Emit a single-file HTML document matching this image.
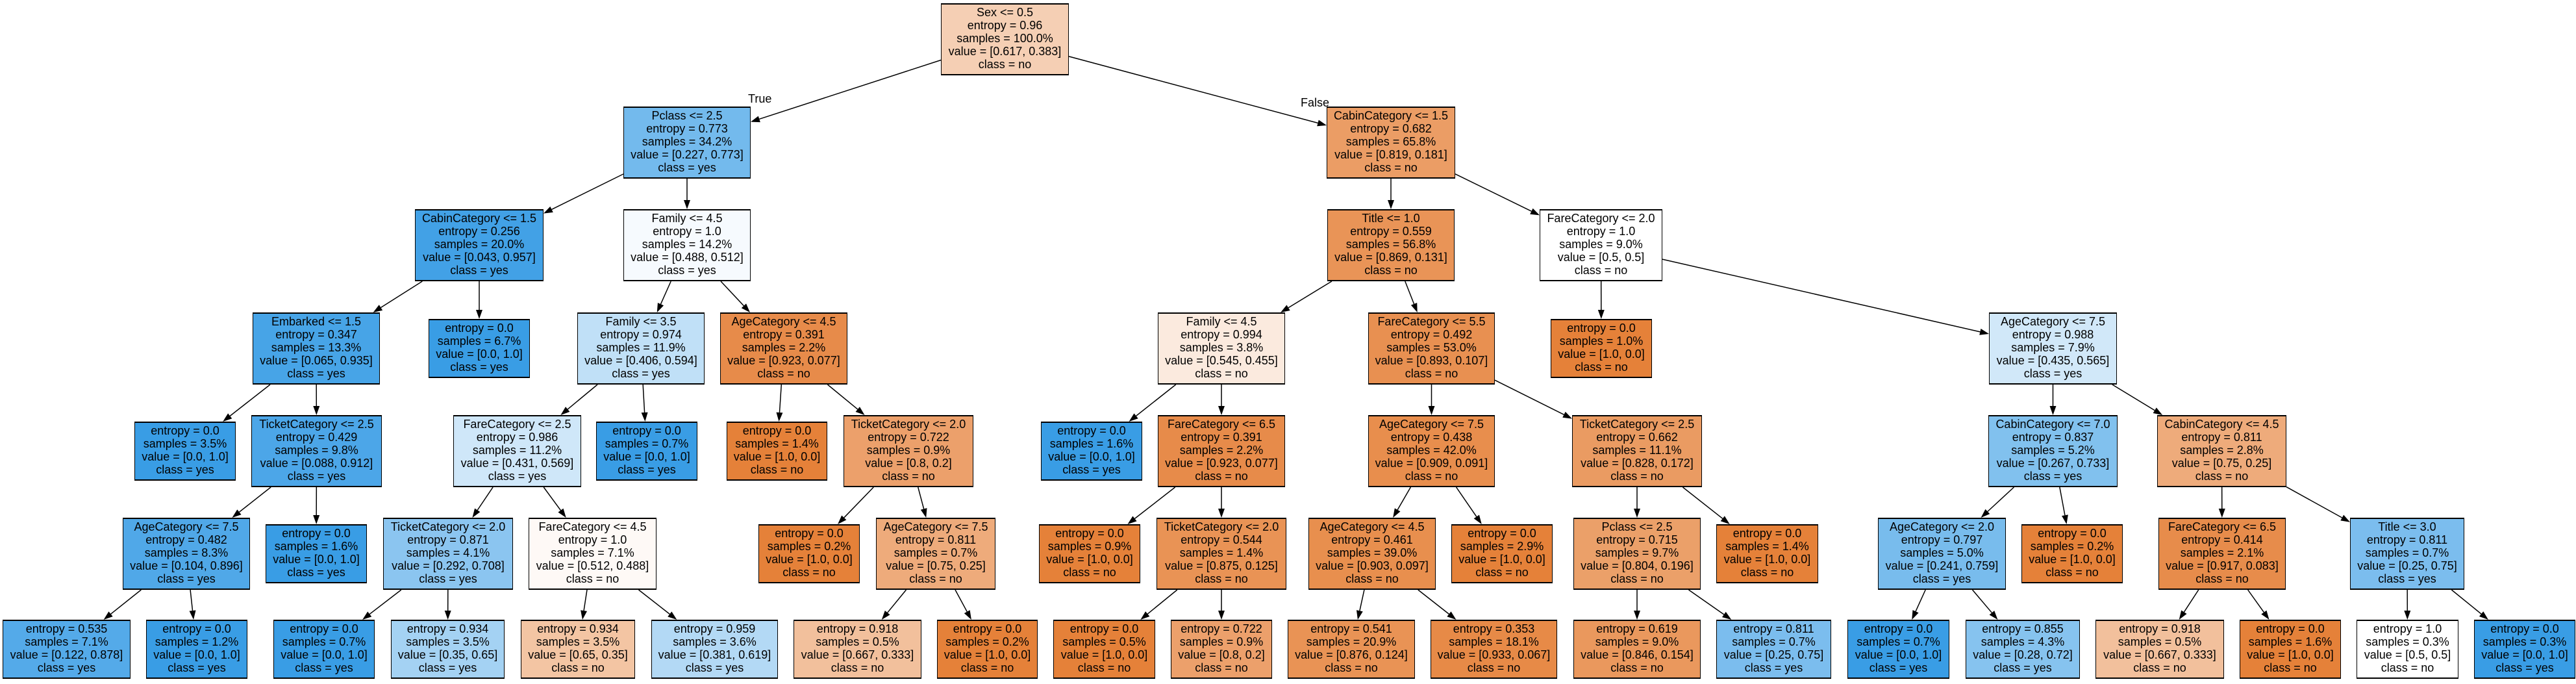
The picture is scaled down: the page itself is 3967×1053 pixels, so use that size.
<!DOCTYPE html>
<html><head><meta charset="utf-8"><style>
html,body{margin:0;padding:0;background:#fff;}
body{width:3967px;height:1053px;position:relative;overflow:hidden;}
.n{position:absolute;box-sizing:border-box;border:1px solid #000;border-top-width:2px;border-bottom-width:2px;font:18px "Liberation Sans",sans-serif;text-align:center;line-height:20px;padding-top:2px;white-space:nowrap;color:#000;}
.a{height:111px}.b{height:91px}
.B{background:#399de5}.O{background:#e58139}
.lbl{position:absolute;font:18px "Liberation Sans",sans-serif;color:#000;}
svg{position:absolute;left:0;top:0;}
</style></head><body>
<svg id="sv" width="3967" height="1053"></svg>
<div class="lbl" style="left:1152px;top:142px">True</div>
<div class="lbl" style="left:2003px;top:148px">False</div>

<div class="n a" id="n0" style="left:1449px;width:197px;top:5px;background:#f5cfb4">Sex &lt;= 0.5<br>entropy = 0.96<br>samples = 100.0%<br>value = [0.617, 0.383]<br>class = no</div>

<div class="n a" id="n1" style="left:960px;width:196px;top:164px;background:#73baed">Pclass &lt;= 2.5<br>entropy = 0.773<br>samples = 34.2%<br>value = [0.227, 0.773]<br>class = yes</div>
<div class="n a" id="n2" style="left:2043px;width:198px;top:164px;background:#eb9d65">CabinCategory &lt;= 1.5<br>entropy = 0.682<br>samples = 65.8%<br>value = [0.819, 0.181]<br>class = no</div>

<div class="n a" id="n3" style="left:639px;width:198px;top:322px;background:#42a1e6">CabinCategory &lt;= 1.5<br>entropy = 0.256<br>samples = 20.0%<br>value = [0.043, 0.957]<br>class = yes</div>
<div class="n a" id="n4" style="left:960px;width:196px;top:322px;background:#f6fafe">Family &lt;= 4.5<br>entropy = 1.0<br>samples = 14.2%<br>value = [0.488, 0.512]<br>class = yes</div>
<div class="n a" id="n5" style="left:2044px;width:196px;top:322px;background:#e99457">Title &lt;= 1.0<br>entropy = 0.559<br>samples = 56.8%<br>value = [0.869, 0.131]<br>class = no</div>
<div class="n a" id="n6" style="left:2371px;width:189px;top:322px;background:#ffffff">FareCategory &lt;= 2.0<br>entropy = 1.0<br>samples = 9.0%<br>value = [0.5, 0.5]<br>class = no</div>

<div class="n a" id="n7" style="left:389px;width:196px;top:481px;background:#47a4e7">Embarked &lt;= 1.5<br>entropy = 0.347<br>samples = 13.3%<br>value = [0.065, 0.935]<br>class = yes</div>
<div class="n b B" id="n8" style="left:660px;width:156px;top:491px">entropy = 0.0<br>samples = 6.7%<br>value = [0.0, 1.0]<br>class = yes</div>
<div class="n a" id="n9" style="left:889px;width:196px;top:481px;background:#c0e0f7">Family &lt;= 3.5<br>entropy = 0.974<br>samples = 11.9%<br>value = [0.406, 0.594]<br>class = yes</div>
<div class="n a" id="n10" style="left:1109px;width:196px;top:481px;background:#e78b4a">AgeCategory &lt;= 4.5<br>entropy = 0.391<br>samples = 2.2%<br>value = [0.923, 0.077]<br>class = no</div>
<div class="n a" id="n11" style="left:1783px;width:196px;top:481px;background:#fbeade">Family &lt;= 4.5<br>entropy = 0.994<br>samples = 3.8%<br>value = [0.545, 0.455]<br>class = no</div>
<div class="n a" id="n12" style="left:2107px;width:195px;top:481px;background:#e89051">FareCategory &lt;= 5.5<br>entropy = 0.492<br>samples = 53.0%<br>value = [0.893, 0.107]<br>class = no</div>
<div class="n b O" id="n13" style="left:2388px;width:156px;top:491px">entropy = 0.0<br>samples = 1.0%<br>value = [1.0, 0.0]<br>class = no</div>
<div class="n a" id="n14" style="left:3063px;width:197px;top:481px;background:#d1e8f9">AgeCategory &lt;= 7.5<br>entropy = 0.988<br>samples = 7.9%<br>value = [0.435, 0.565]<br>class = yes</div>

<div class="n b B" id="n15" style="left:207px;width:156px;top:649px">entropy = 0.0<br>samples = 3.5%<br>value = [0.0, 1.0]<br>class = yes</div>
<div class="n a" id="n16" style="left:387px;width:201px;top:639px;background:#4ca6e8">TicketCategory &lt;= 2.5<br>entropy = 0.429<br>samples = 9.8%<br>value = [0.088, 0.912]<br>class = yes</div>
<div class="n a" id="n17" style="left:698px;width:197px;top:639px;background:#cfe7f9">FareCategory &lt;= 2.5<br>entropy = 0.986<br>samples = 11.2%<br>value = [0.431, 0.569]<br>class = yes</div>
<div class="n b B" id="n18" style="left:918px;width:156px;top:649px">entropy = 0.0<br>samples = 0.7%<br>value = [0.0, 1.0]<br>class = yes</div>
<div class="n b O" id="n19" style="left:1119px;width:155px;top:649px">entropy = 0.0<br>samples = 1.4%<br>value = [1.0, 0.0]<br>class = no</div>
<div class="n a" id="n20" style="left:1299px;width:200px;top:639px;background:#eca06b">TicketCategory &lt;= 2.0<br>entropy = 0.722<br>samples = 0.9%<br>value = [0.8, 0.2]<br>class = no</div>
<div class="n b B" id="n21" style="left:1603px;width:156px;top:649px">entropy = 0.0<br>samples = 1.6%<br>value = [0.0, 1.0]<br>class = yes</div>
<div class="n a" id="n22" style="left:1783px;width:196px;top:639px;background:#e78b4a">FareCategory &lt;= 6.5<br>entropy = 0.391<br>samples = 2.2%<br>value = [0.923, 0.077]<br>class = no</div>
<div class="n a" id="n23" style="left:2107px;width:195px;top:639px;background:#e88e4d">AgeCategory &lt;= 7.5<br>entropy = 0.438<br>samples = 42.0%<br>value = [0.909, 0.091]<br>class = no</div>
<div class="n a" id="n24" style="left:2421px;width:200px;top:639px;background:#ea9b62">TicketCategory &lt;= 2.5<br>entropy = 0.662<br>samples = 11.1%<br>value = [0.828, 0.172]<br>class = no</div>
<div class="n a" id="n25" style="left:3062px;width:199px;top:639px;background:#81c1ee">CabinCategory &lt;= 7.0<br>entropy = 0.837<br>samples = 5.2%<br>value = [0.267, 0.733]<br>class = yes</div>
<div class="n a" id="n26" style="left:3322px;width:199px;top:639px;background:#eeab7b">CabinCategory &lt;= 4.5<br>entropy = 0.811<br>samples = 2.8%<br>value = [0.75, 0.25]<br>class = no</div>

<div class="n a" id="n27" style="left:189px;width:196px;top:797px;background:#50a8e8">AgeCategory &lt;= 7.5<br>entropy = 0.482<br>samples = 8.3%<br>value = [0.104, 0.896]<br>class = yes</div>
<div class="n b B" id="n28" style="left:409px;width:156px;top:807px">entropy = 0.0<br>samples = 1.6%<br>value = [0.0, 1.0]<br>class = yes</div>
<div class="n a" id="n29" style="left:590px;width:200px;top:797px;background:#8bc5f0">TicketCategory &lt;= 2.0<br>entropy = 0.871<br>samples = 4.1%<br>value = [0.292, 0.708]<br>class = yes</div>
<div class="n a" id="n30" style="left:814px;width:197px;top:797px;background:#fef9f6">FareCategory &lt;= 4.5<br>entropy = 1.0<br>samples = 7.1%<br>value = [0.512, 0.488]<br>class = no</div>
<div class="n b O" id="n31" style="left:1168px;width:156px;top:807px">entropy = 0.0<br>samples = 0.2%<br>value = [1.0, 0.0]<br>class = no</div>
<div class="n a" id="n32" style="left:1349px;width:184px;top:797px;background:#eeab7b">AgeCategory &lt;= 7.5<br>entropy = 0.811<br>samples = 0.7%<br>value = [0.75, 0.25]<br>class = no</div>
<div class="n b O" id="n33" style="left:1600px;width:156px;top:807px">entropy = 0.0<br>samples = 0.9%<br>value = [1.0, 0.0]<br>class = no</div>
<div class="n a" id="n34" style="left:1781px;width:200px;top:797px;background:#e99355">TicketCategory &lt;= 2.0<br>entropy = 0.544<br>samples = 1.4%<br>value = [0.875, 0.125]<br>class = no</div>
<div class="n a" id="n35" style="left:2015px;width:196px;top:797px;background:#e88f4e">AgeCategory &lt;= 4.5<br>entropy = 0.461<br>samples = 39.0%<br>value = [0.903, 0.097]<br>class = no</div>
<div class="n b O" id="n36" style="left:2235px;width:156px;top:807px">entropy = 0.0<br>samples = 2.9%<br>value = [1.0, 0.0]<br>class = no</div>
<div class="n a" id="n37" style="left:2423px;width:196px;top:797px;background:#eba069">Pclass &lt;= 2.5<br>entropy = 0.715<br>samples = 9.7%<br>value = [0.804, 0.196]<br>class = no</div>
<div class="n b O" id="n38" style="left:2643px;width:157px;top:807px">entropy = 0.0<br>samples = 1.4%<br>value = [1.0, 0.0]<br>class = no</div>
<div class="n a" id="n39" style="left:2892px;width:197px;top:797px;background:#78bced">AgeCategory &lt;= 2.0<br>entropy = 0.797<br>samples = 5.0%<br>value = [0.241, 0.759]<br>class = yes</div>
<div class="n b O" id="n40" style="left:3113px;width:156px;top:807px">entropy = 0.0<br>samples = 0.2%<br>value = [1.0, 0.0]<br>class = no</div>
<div class="n a" id="n41" style="left:3324px;width:196px;top:797px;background:#e78c4b">FareCategory &lt;= 6.5<br>entropy = 0.414<br>samples = 2.1%<br>value = [0.917, 0.083]<br>class = no</div>
<div class="n a" id="n42" style="left:3619px;width:176px;top:797px;background:#7bbdee">Title &lt;= 3.0<br>entropy = 0.811<br>samples = 0.7%<br>value = [0.25, 0.75]<br>class = yes</div>

<div class="n b" id="n43" style="left:4px;width:197px;top:954px;background:#54aae9">entropy = 0.535<br>samples = 7.1%<br>value = [0.122, 0.878]<br>class = yes</div>
<div class="n b B" id="n44" style="left:225px;width:156px;top:954px">entropy = 0.0<br>samples = 1.2%<br>value = [0.0, 1.0]<br>class = yes</div>
<div class="n b B" id="n45" style="left:421px;width:156px;top:954px">entropy = 0.0<br>samples = 0.7%<br>value = [0.0, 1.0]<br>class = yes</div>
<div class="n b" id="n46" style="left:602px;width:175px;top:954px;background:#a4d2f3">entropy = 0.934<br>samples = 3.5%<br>value = [0.35, 0.65]<br>class = yes</div>
<div class="n b" id="n47" style="left:802px;width:176px;top:954px;background:#f3c5a3">entropy = 0.934<br>samples = 3.5%<br>value = [0.65, 0.35]<br>class = no</div>
<div class="n b" id="n48" style="left:1003px;width:195px;top:954px;background:#b3d9f5">entropy = 0.959<br>samples = 3.6%<br>value = [0.381, 0.619]<br>class = yes</div>
<div class="n b" id="n49" style="left:1222px;width:197px;top:954px;background:#f2c09c">entropy = 0.918<br>samples = 0.5%<br>value = [0.667, 0.333]<br>class = no</div>
<div class="n b O" id="n50" style="left:1443px;width:155px;top:954px">entropy = 0.0<br>samples = 0.2%<br>value = [1.0, 0.0]<br>class = no</div>
<div class="n b O" id="n51" style="left:1622px;width:157px;top:954px">entropy = 0.0<br>samples = 0.5%<br>value = [1.0, 0.0]<br>class = no</div>
<div class="n b" id="n52" style="left:1803px;width:156px;top:954px;background:#eca06b">entropy = 0.722<br>samples = 0.9%<br>value = [0.8, 0.2]<br>class = no</div>
<div class="n b" id="n53" style="left:1983px;width:196px;top:954px;background:#e99355">entropy = 0.541<br>samples = 20.9%<br>value = [0.876, 0.124]<br>class = no</div>
<div class="n b" id="n54" style="left:2203px;width:195px;top:954px;background:#e78a47">entropy = 0.353<br>samples = 18.1%<br>value = [0.933, 0.067]<br>class = no</div>
<div class="n b" id="n55" style="left:2423px;width:196px;top:954px;background:#ea985d">entropy = 0.619<br>samples = 9.0%<br>value = [0.846, 0.154]<br>class = no</div>
<div class="n b" id="n56" style="left:2643px;width:177px;top:954px;background:#7bbdee">entropy = 0.811<br>samples = 0.7%<br>value = [0.25, 0.75]<br>class = yes</div>
<div class="n b B" id="n57" style="left:2845px;width:157px;top:954px">entropy = 0.0<br>samples = 0.7%<br>value = [0.0, 1.0]<br>class = yes</div>
<div class="n b" id="n58" style="left:3027px;width:176px;top:954px;background:#86c3ef">entropy = 0.855<br>samples = 4.3%<br>value = [0.28, 0.72]<br>class = yes</div>
<div class="n b" id="n59" style="left:3227px;width:198px;top:954px;background:#f2c09c">entropy = 0.918<br>samples = 0.5%<br>value = [0.667, 0.333]<br>class = no</div>
<div class="n b O" id="n60" style="left:3449px;width:156px;top:954px">entropy = 0.0<br>samples = 1.6%<br>value = [1.0, 0.0]<br>class = no</div>
<div class="n b" id="n61" style="left:3629px;width:157px;top:954px;background:#ffffff">entropy = 1.0<br>samples = 0.3%<br>value = [0.5, 0.5]<br>class = no</div>
<div class="n b B" id="n62" style="left:3810px;width:156px;top:954px">entropy = 0.0<br>samples = 0.3%<br>value = [0.0, 1.0]<br>class = yes</div>

<script>
(function(){
var E=[[0,1],[0,2],[1,3],[1,4],[2,5],[2,6],[3,7],[3,8],[4,9],[4,10],[5,11],[5,12],[6,13],[6,14],[7,15],[7,16],[9,17],[9,18],[10,19],[10,20],[11,21],[11,22],[12,23],[12,24],[14,25],[14,26],[16,27],[16,28],[17,29],[17,30],[20,31],[20,32],[22,33],[22,34],[23,35],[23,36],[24,37],[24,38],[25,39],[25,40],[26,41],[26,42],[27,43],[27,44],[29,45],[29,46],[30,47],[30,48],[32,49],[32,50],[34,51],[34,52],[35,53],[35,54],[37,55],[37,56],[39,57],[39,58],[41,59],[41,60],[42,61],[42,62]];
function box(i){var e=document.getElementById('n'+i);return {x:e.offsetLeft,y:e.offsetTop,w:e.offsetWidth,h:e.offsetHeight};}
function clip(b,dx,dy){var tx=dx?(b.w/2)/Math.abs(dx):1e9,ty=dy?(b.h/2)/Math.abs(dy):1e9,t=Math.min(tx,ty);return [b.x+b.w/2+dx*t,b.y+b.h/2+dy*t];}
var s='';
E.forEach(function(p){
 var a=box(p[0]),b=box(p[1]);
 var dx=(b.x+b.w/2)-(a.x+a.w/2),dy=(b.y+b.h/2)-(a.y+a.h/2);
 var P=clip(a,dx,dy),Q=clip(b,-dx,-dy);
 var L=Math.sqrt(dx*dx+dy*dy),ux=dx/L,uy=dy/L;
 var bx=Q[0]-ux*14,by=Q[1]-uy*14;
 s+='<line x1="'+P[0]+'" y1="'+P[1]+'" x2="'+bx+'" y2="'+by+'" stroke="#000" stroke-width="1.5"/>';
 s+='<polygon points="'+Q[0]+','+Q[1]+' '+(bx-uy*5)+','+(by+ux*5)+' '+(bx+uy*5)+','+(by-ux*5)+'" fill="#000"/>';
});
document.getElementById('sv').innerHTML=s;
})();
</script>
</body></html>
